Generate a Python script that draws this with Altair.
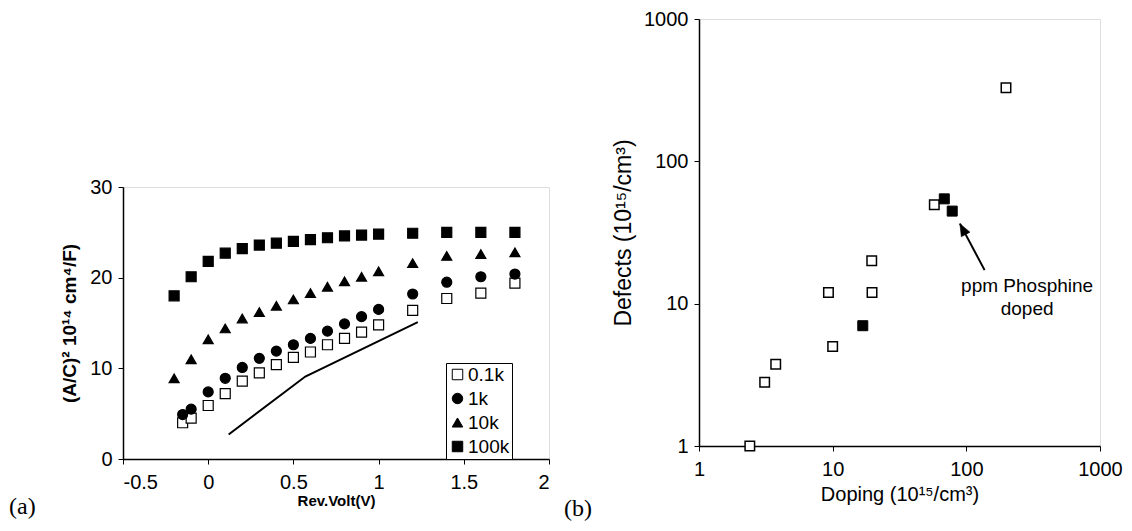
import altair as alt
import pandas as pd

FONT = "Liberation Sans"

# ---------------- Panel (a) data ----------------
series_names = ["0.1k", "1k", "10k", "100k"]
volt_low = [-0.15, -0.1, 0, 0.1, 0.2, 0.3, 0.4, 0.5, 0.6, 0.7, 0.8, 0.9, 1.0, 1.2, 1.4, 1.6, 1.8]
volt_high = [-0.2, -0.1, 0, 0.1, 0.2, 0.3, 0.4, 0.5, 0.6, 0.7, 0.8, 0.9, 1.0, 1.2, 1.4, 1.6, 1.8]
c_01k = [4.0, 4.5, 5.9, 7.2, 8.6, 9.5, 10.4, 11.2, 11.8, 12.6, 13.3, 14.0, 14.8, 16.4, 17.7, 18.3, 19.4]
c_1k = [4.9, 5.5, 7.4, 8.9, 10.1, 11.1, 11.9, 12.6, 13.3, 14.1, 14.9, 15.7, 16.5, 18.2, 19.5, 20.1, 20.4]
c_10k = [8.9, 11.0, 13.2, 14.4, 15.5, 16.2, 16.9, 17.6, 18.3, 19.0, 19.6, 20.1, 20.7, 21.6, 22.4, 22.6, 22.8]
c_100k = [18.0, 20.1, 21.8, 22.7, 23.2, 23.6, 23.8, 24.0, 24.2, 24.4, 24.6, 24.7, 24.8, 24.9, 25.0, 25.0, 25.0]
guide_v = [0.12, 0.57, 1.23]
guide_c = [2.7, 9.1, 15.1]
ticks_a_x = [-0.5, 0, 0.5, 1, 1.5, 2]
ticks_a_y = [0, 10, 20, 30]

# ---------------- Panel (b) data ----------------
open_doping = [2.4, 3.1, 3.75, 9.3, 10.0, 19.7, 19.6, 57.6, 198]
open_defects = [1.0, 2.8, 3.75, 12.0, 5.0, 12.0, 20.0, 49.5, 329]
ph_doping = [16.8, 68.4, 78.4]
ph_defects = [7.0, 54.5, 44.7]
note_lines = ["ppm Phosphine", "doped"]
note_doping = [285, 285]
note_defects = [13.4, 9.2]
arrow_doping = [137, 89.5]
arrow_defects = [17.2, 36.5]
ticks_b = [1, 10, 100, 1000]

# ---------------- build tables ----------------
rows = []
for name, xs, ys in [("0.1k", volt_low, c_01k), ("1k", volt_low, c_1k),
                     ("10k", volt_high, c_10k), ("100k", volt_high, c_100k)]:
    for x, y in zip(xs, ys):
        rows.append({"V": x, "C": y, "series": name})
dfa = pd.DataFrame(rows)
dfl = pd.DataFrame({"V": guide_v, "C": guide_c})

axis_common = dict(labelFont=FONT, labelFontSize=20, labelColor="black",
                   domainColor="black", domainWidth=1.5, tickColor="black",
                   tickWidth=1, tickSize=5, grid=False, titleColor="black",
                   labelExpr="datum.value + ''")

xa = alt.X("V:Q", scale=alt.Scale(domain=[-0.5, 2], nice=False, zero=False),
           axis=alt.Axis(values=ticks_a_x, title="Rev.Volt(V)", titleFont=FONT,
                         titleFontSize=15, titleFontWeight="bold", labelPadding=8,
                         titlePadding=1, **axis_common))
ya = alt.Y("C:Q", scale=alt.Scale(domain=[0, 30], nice=False),
           axis=alt.Axis(values=ticks_a_y, title="(A/C)² 10¹⁴ cm⁴/F)", titleFont=FONT,
                         titleFontSize=19, titleFontWeight="bold", labelPadding=6,
                         titlePadding=10, **axis_common))

legend_a = alt.Legend(title=None, orient="none", legendX=323, legendY=344,
                      strokeColor="black", fillColor="white", padding=2,
                      labelFont=FONT, labelFontSize=19, labelColor="black",
                      symbolSize=110, symbolStrokeWidth=1,
                      rowPadding=4, labelOffset=1, cornerRadius=0)

shape_scale = alt.Scale(domain=series_names,
                        range=["square", "circle", "triangle-up", "square"])
fill_scale = alt.Scale(domain=series_names, range=["white", "black", "black", "black"])
stroke_scale = alt.Scale(domain=series_names, range=["black", "black", "black", "black"])

pts_a = alt.Chart(dfa).mark_point(filled=True, size=100, strokeWidth=1.2,
                                  opacity=1).encode(
    x=xa, y=ya,
    shape=alt.Shape("series:N", sort=series_names, scale=shape_scale, legend=legend_a),
    fill=alt.Fill("series:N", sort=series_names, scale=fill_scale, legend=legend_a),
    stroke=alt.Stroke("series:N", sort=series_names, scale=stroke_scale, legend=legend_a),
)
line_a = alt.Chart(dfl).mark_line(color="black", strokeWidth=2).encode(x="V:Q", y="C:Q")

tag_a = alt.Chart(pd.DataFrame({"t": ["(a)"]})).mark_text(
    font="Liberation Serif", fontSize=24, align="left", baseline="middle",
    color="black").encode(text="t:N", x=alt.value(-114), y=alt.value(320))

panel_a = alt.layer(line_a, pts_a, tag_a).properties(width=426, height=272)

# empty space above panel (a)
spacer = alt.Chart(pd.DataFrame({"t": [" "]})).mark_text(
    fontSize=10, color="white").encode(text="t:N", x=alt.value(0), y=alt.value(0)
).properties(width=426, height=156, view=alt.ViewBackground(stroke="transparent"))

left = alt.vconcat(spacer, panel_a, spacing=0)

# ---------------- Panel (b) ----------------
dfo = pd.DataFrame({"d": open_doping, "f": open_defects})
dfp = pd.DataFrame({"d": ph_doping, "f": ph_defects})
dfn = pd.DataFrame({"d": note_doping, "f": note_defects, "t": note_lines})
dfar = pd.DataFrame({"d": arrow_doping, "f": arrow_defects, "o": [0, 1]})
dfhead = dfar.iloc[[1]]

xb = alt.X("d:Q", scale=alt.Scale(type="log", domain=[1, 1000], nice=False),
           axis=alt.Axis(values=ticks_b, title="Doping (10¹⁵/cm³)", titleFont=FONT,
                         titleFontSize=20, titleFontWeight="normal", labelPadding=8,
                         titlePadding=5, labelFlush=False, **axis_common))
yb = alt.Y("f:Q", scale=alt.Scale(type="log", domain=[1, 1000], nice=False),
           axis=alt.Axis(values=ticks_b, title="Defects (10¹⁵/cm³)", titleFont=FONT,
                         titleFontSize=23, titleFontWeight="normal", labelPadding=6,
                         titlePadding=8, **axis_common))

open_b = alt.Chart(dfo).mark_point(shape="square", filled=True, fill="white",
                                   stroke="black", strokeWidth=1.5, size=90,
                                   opacity=1).encode(x=xb, y=yb)
ph_b = alt.Chart(dfp).mark_point(shape="square", filled=True, fill="black",
                                 stroke="black", strokeWidth=1, size=100,
                                 opacity=1).encode(x="d:Q", y="f:Q")
arrow_line = alt.Chart(dfar).mark_line(color="black", strokeWidth=2).encode(
    x="d:Q", y="f:Q", order="o:Q")
arrow_head = alt.Chart(dfhead).mark_point(
    shape="M0,0L-0.4,1L0.4,1Z", filled=True, fill="black", stroke="black",
    strokeWidth=0.5, size=600, angle=332, opacity=1).encode(x="d:Q", y="f:Q")
note_b = alt.Chart(dfn).mark_text(font=FONT, fontSize=19, align="center",
                                  baseline="middle", color="black").encode(
    x="d:Q", y="f:Q", text="t:N")
tag_b = alt.Chart(pd.DataFrame({"t": ["(b)"]})).mark_text(
    font="Liberation Serif", fontSize=24, align="left", baseline="middle",
    color="black").encode(text="t:N", x=alt.value(-135), y=alt.value(490))

panel_b = alt.layer(open_b, ph_b, arrow_line, arrow_head, note_b, tag_b).properties(
    width=401, height=427)

chart = alt.hconcat(left, panel_b, spacing=13).properties(
    padding={"left": 0, "top": 0, "right": 0, "bottom": 0}
).configure_view(stroke="black", strokeWidth=1.5).configure(background="white")

chart.save("out.html", embed_options={"renderer": "svg", "actions": False})
